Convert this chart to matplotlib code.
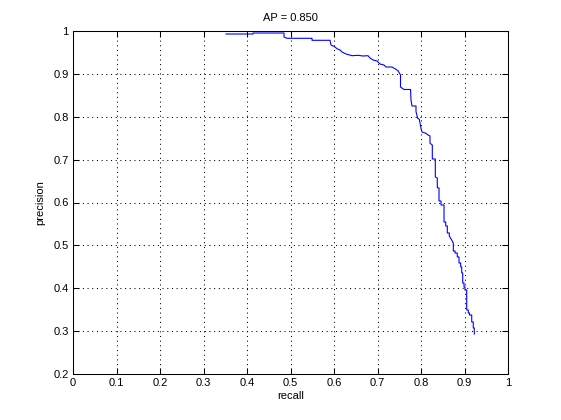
import matplotlib
matplotlib.use("Agg")
import matplotlib.pyplot as plt
from matplotlib.ticker import FixedLocator, FixedFormatter

plt.rcParams['font.family'] = ['Liberation Sans', 'DejaVu Sans']

recall = [0.3517, 0.4138, 0.4138, 0.4851, 0.4851, 0.4920, 0.5494, 0.5494, 0.5908, 0.5931,
          0.6023, 0.6069, 0.6138, 0.6184, 0.6276, 0.6414, 0.6552, 0.6667, 0.6782, 0.6828,
          0.6897, 0.6989, 0.7057, 0.7149, 0.7195, 0.7333, 0.7402, 0.7471, 0.7529, 0.7529,
          0.7609, 0.7759, 0.7770, 0.7793, 0.7885, 0.7885, 0.7924, 0.7961, 0.8000, 0.8023,
          0.8115, 0.8161, 0.8207, 0.8207, 0.8260, 0.8260, 0.8329, 0.8329, 0.8375, 0.8375,
          0.8414, 0.8414, 0.8460, 0.8460, 0.8529, 0.8529, 0.8568, 0.8568, 0.8605, 0.8605,
          0.8651, 0.8651, 0.8678, 0.8706, 0.8743, 0.8743, 0.8782, 0.8782, 0.8834, 0.8834,
          0.8874, 0.8874, 0.8913, 0.8913, 0.8936, 0.8936, 0.8959, 0.8959, 0.8989, 0.8989,
          0.9011, 0.9011, 0.9051, 0.9051, 0.9087, 0.9087, 0.9115, 0.9115, 0.9166, 0.9166,
          0.9202, 0.9202, 0.9225, 0.9225]
precision = [0.9930, 0.9930, 0.9953, 0.9953, 0.9860, 0.9830, 0.9830, 0.9783, 0.9783, 0.9674,
             0.9627, 0.9587, 0.9557, 0.9510, 0.9464, 0.9424, 0.9433, 0.9417, 0.9424, 0.9370,
             0.9324, 0.9300, 0.9230, 0.9207, 0.9160, 0.9160, 0.9121, 0.9074, 0.8974, 0.8694,
             0.8636, 0.8636, 0.8391, 0.8251, 0.8251, 0.8118, 0.7964, 0.7941, 0.7731, 0.7644,
             0.7614, 0.7574, 0.7551, 0.7381, 0.7341, 0.7015, 0.7015, 0.6595, 0.6571, 0.6345,
             0.6338, 0.6035, 0.6035, 0.5942, 0.5942, 0.5545, 0.5545, 0.5452, 0.5452, 0.5289,
             0.5289, 0.5219, 0.5172, 0.5125, 0.5055, 0.4869, 0.4869, 0.4822, 0.4822, 0.4729,
             0.4729, 0.4589, 0.4589, 0.4496, 0.4496, 0.4356, 0.4356, 0.4122, 0.4122, 0.4029,
             0.4029, 0.3959, 0.3959, 0.3493, 0.3493, 0.3423, 0.3423, 0.3376, 0.3376, 0.3213,
             0.3213, 0.3073, 0.3073, 0.2933]

x_ticks = [0, 0.1, 0.2, 0.3, 0.4, 0.5, 0.6, 0.7, 0.8, 0.9, 1]
x_labels = ['0', '0.1', '0.2', '0.3', '0.4', '0.5', '0.6', '0.7', '0.8', '0.9', '1']
y_ticks = [0.2, 0.3, 0.4, 0.5, 0.6, 0.7, 0.8, 0.9, 1]
y_labels = ['0.2', '0.3', '0.4', '0.5', '0.6', '0.7', '0.8', '0.9', '1']
title = 'AP = 0.850'

fig = plt.figure(figsize=(5.61, 4.2), dpi=100)
ax = fig.add_axes([73/561, 46/420, 435/561, 343/420])
ax.plot(recall, precision, color=(0, 0, 1), lw=0.8)
ax.set_xlim(0, 1)
ax.set_ylim(0.2, 1)
ax.xaxis.set_major_locator(FixedLocator(x_ticks))
ax.xaxis.set_major_formatter(FixedFormatter(x_labels))
ax.yaxis.set_major_locator(FixedLocator(y_ticks))
ax.yaxis.set_major_formatter(FixedFormatter(y_labels))
ax.tick_params(direction='in', length=4, width=0.75, top=True, right=True,
               labelsize=8, pad=3, colors='black')
ax.grid(True, color='black', linestyle=(0, (1, 3.5)), linewidth=0.75)
for s in ax.spines.values():
    s.set_linewidth(0.75)
ax.set_xlabel('recall', fontsize=8, labelpad=2)
ax.set_ylabel('precision', fontsize=8, labelpad=6)
ax.set_title(title, fontsize=8, pad=7)
fig.savefig('out.png', dpi=100)
